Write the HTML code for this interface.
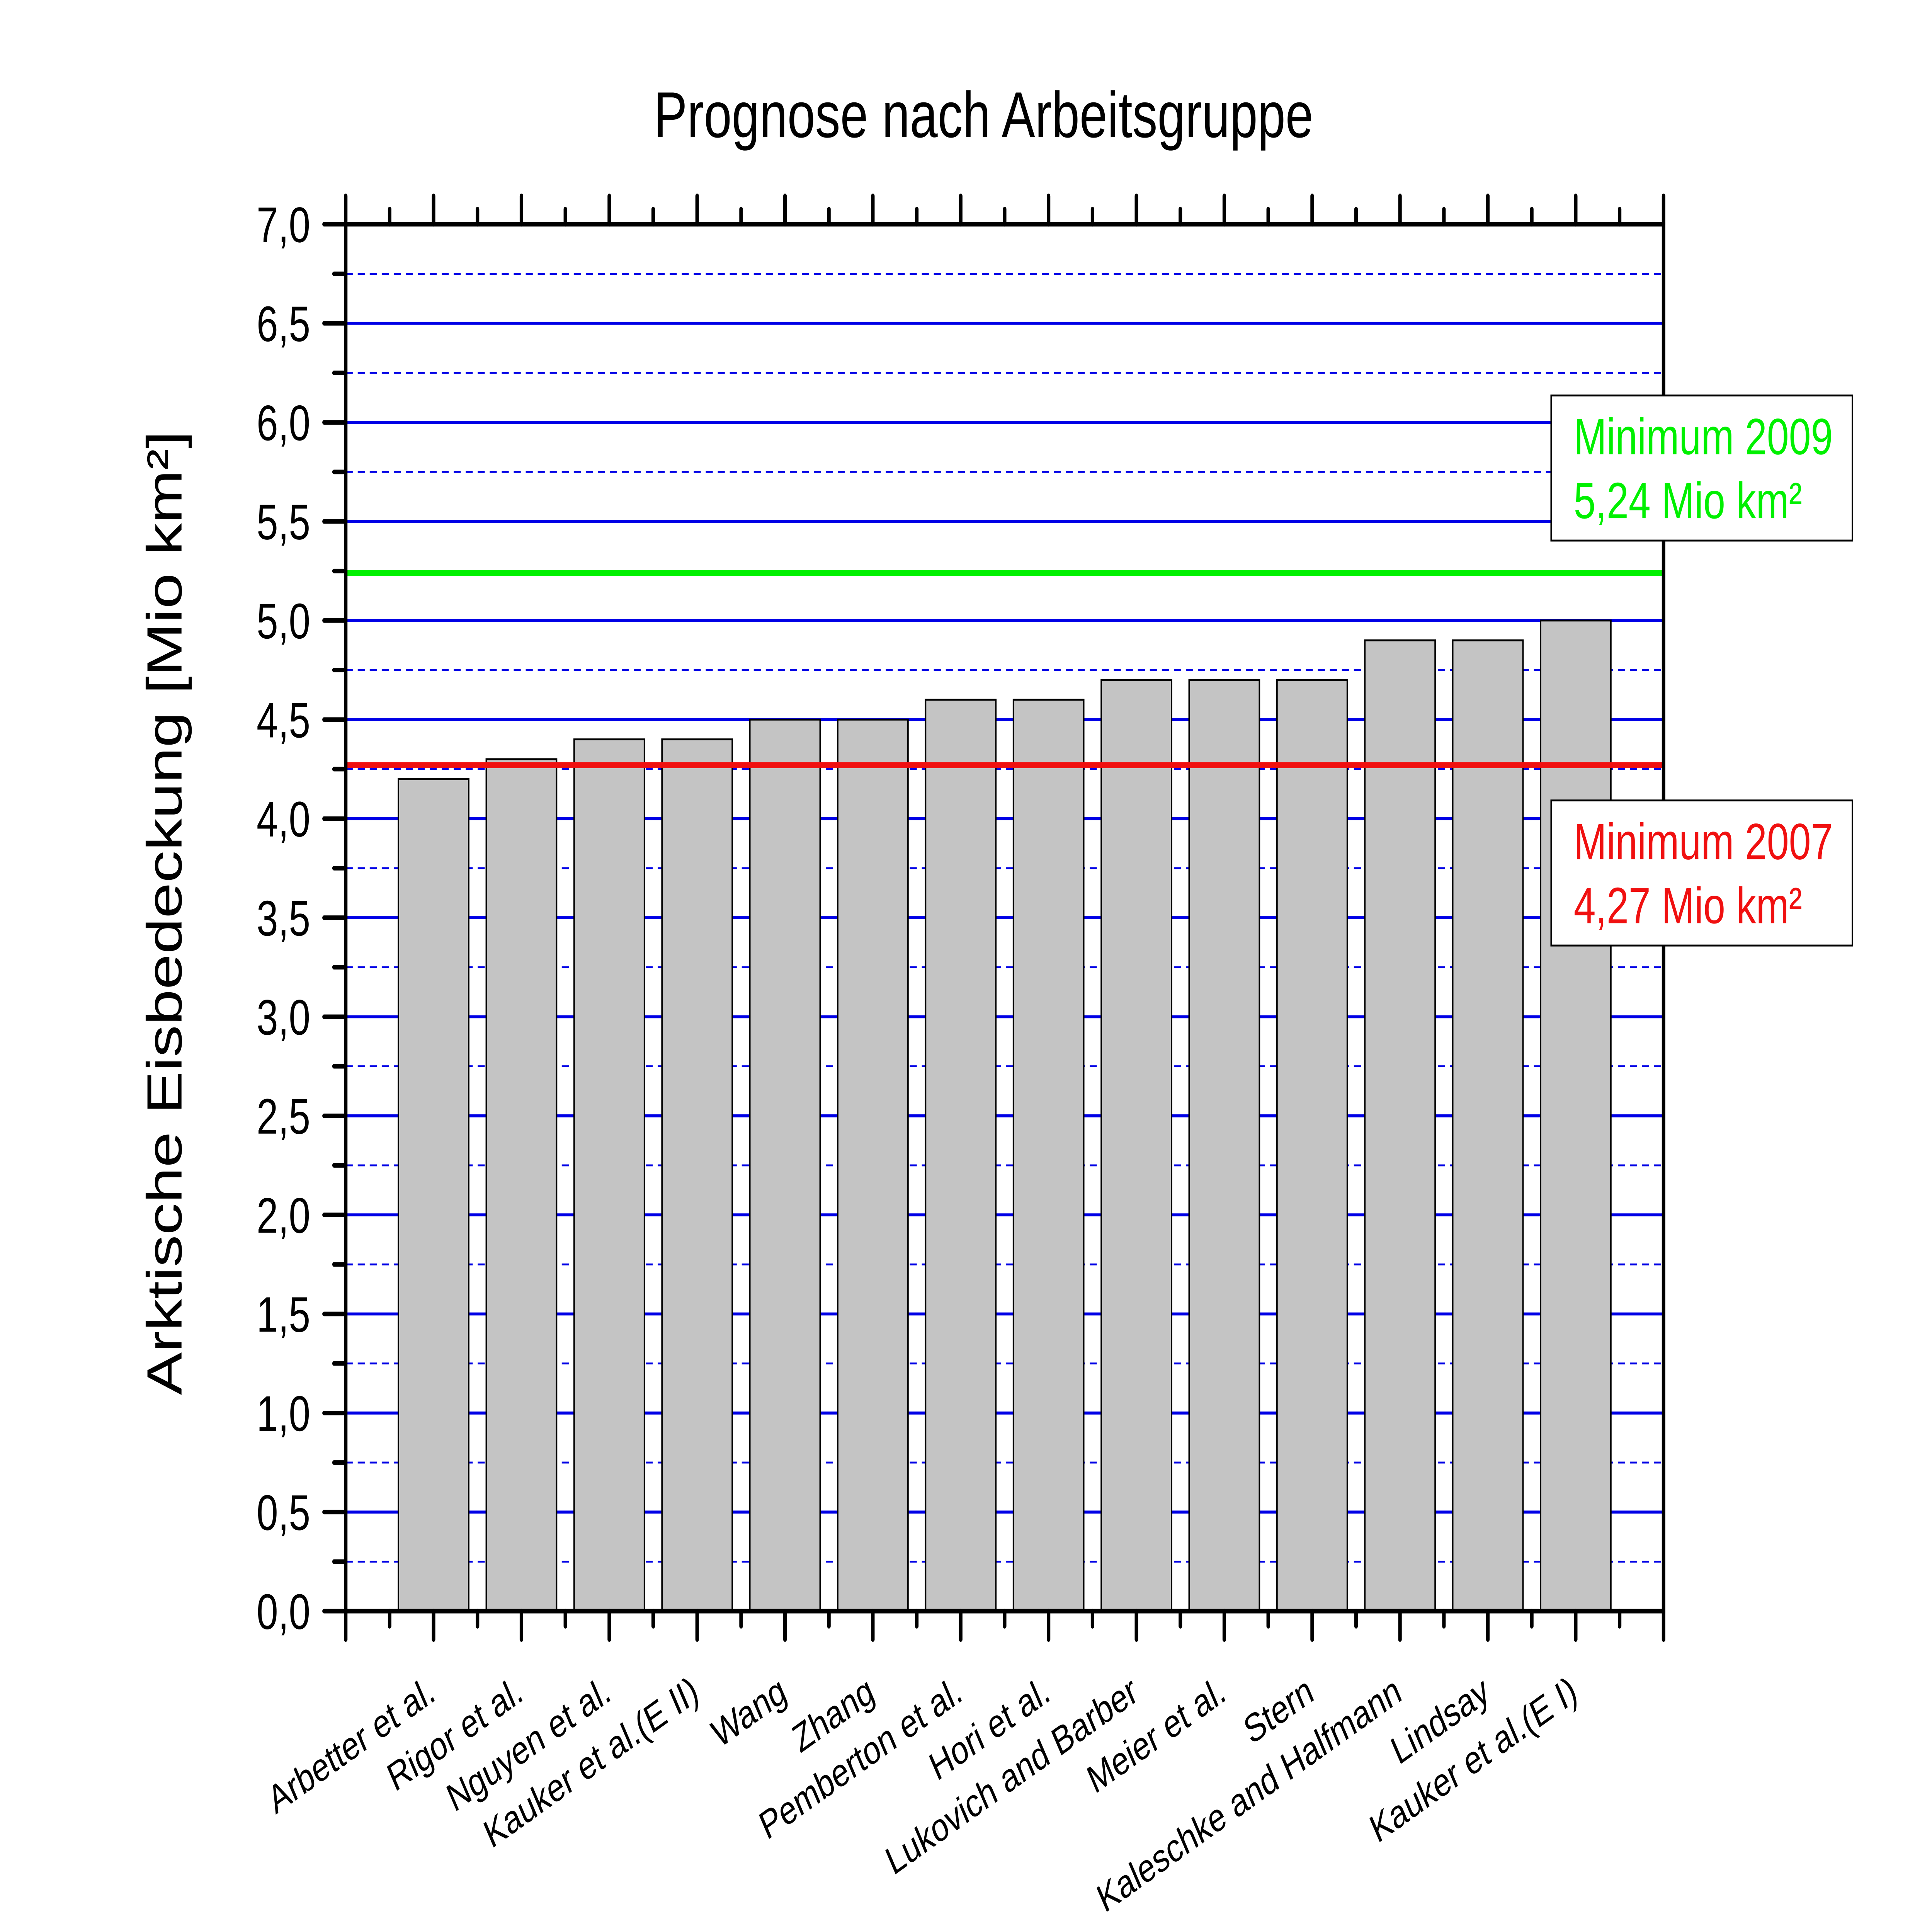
<!DOCTYPE html>
<html><head><meta charset="utf-8"><style>
html,body{margin:0;padding:0;background:#fff;overflow:hidden;width:100%;height:100%;}
svg{display:block;position:absolute;left:0;top:0;width:100vw;height:100vh;font-family:"Liberation Sans",Arial,sans-serif;}
</style></head><body>
<svg id="chart" viewBox="0 0 6600 5100" preserveAspectRatio="none" xmlns="http://www.w3.org/2000/svg">
<rect x="0" y="0" width="6600" height="5100" fill="#fff"/>
<text x="3360" y="362" font-size="171" text-anchor="middle">Prognose nach Arbeitsgruppe</text>
<text transform="translate(620,2410) rotate(-90)" font-size="169" text-anchor="middle">Arktische Eisbedeckung [Mio km²]</text>
<g id="grid"></g>
<g id="bars"></g>
<g id="refs"></g>
<g id="axes"></g>
<g id="labels"></g>
<g id="boxes"></g>
</svg>
<script>
const categories = ["Arbetter et al.","Rigor et al.","Nguyen et al.","Kauker et al.(E II)","Wang","Zhang","Pemberton et al.","Hori et al.","Lukovich and Barber","Meier et al.","Stern","Kaleschke and Halfmann","Lindsay","Kauker et al.(E I)"];
const values = [4.2,4.3,4.4,4.4,4.5,4.5,4.6,4.6,4.7,4.7,4.7,4.9,4.9,5.0];
const yTickLabels = ["0,0","0,5","1,0","1,5","2,0","2,5","3,0","3,5","4,0","4,5","5,0","5,5","6,0","6,5","7,0"];
const refValues = [5.24, 4.27];
const refLabels = [["Minimum 2009","5,24 Mio km²"],["Minimum 2007","4,27 Mio km²"]];

const NS="http://www.w3.org/2000/svg";
const L=1181,R=5683,T=592,B=4253,YMAX=7,XMAX=categories.length+1;
const sx=v=>L+(R-L)*v/XMAX;
const sy=v=>B-(B-T)*v/YMAX;
function mk(tag,parent,attrs){const e=document.createElementNS(NS,tag);for(const k in attrs)e.setAttribute(k,attrs[k]);document.getElementById(parent).appendChild(e);return e;}

for(let i=1;i<YMAX*4;i++){
  const v=i/4, y=sy(v);
  if(i%2===0){
    const g=mk('line','grid',{x1:L,x2:R,y1:y,y2:y,stroke:'#0000e6','stroke-width':8});
    
    
  } else {
    const g=mk('line','grid',{x1:L,x2:R,y1:y,y2:y,stroke:'#0000e6','stroke-width':5,'stroke-dasharray':'24 17'});
    
    
  }
}
const bw=(R-L)/XMAX*0.8;
values.forEach((v,i)=>{
  const cx=sx(i+1);
  const b=mk('rect','bars',{x:cx-bw/2,y:sy(v),width:bw,height:B-sy(v),fill:'#c4c4c4',stroke:'#000','stroke-width':5});
  
  
});
const refColors=['#00f000','#f01010'];
refValues.forEach((v,i)=>{
  const l=mk('line','refs',{x1:L,x2:R,y1:sy(v),y2:sy(v),stroke:refColors[i],'stroke-width':16});
  
  
});
const fr=mk('rect','axes',{x:L,y:T,width:R-L,height:B-T,fill:'none',stroke:'#000','stroke-width':12});


for(let i=0;i<=YMAX*4;i++){
  const y=sy(i/4), len=(i%2===0)?74:40;
  const t=mk('line','axes',{x1:L-len,x2:L,y1:y,y2:y,stroke:'#000','stroke-width':12,'stroke-linecap':'round'});
  
  
}
yTickLabels.forEach((s,i)=>{
  const t=mk('text','labels',{x:1060,y:sy(i*0.5)+47,'font-size':132,'text-anchor':'end'});
  t.textContent=s;
  
  
});
for(let i=0;i<=XMAX*2;i++){
  const x=sx(i/2), len=(i%2===0)?75:40;
  const tb=mk('line','axes',{x1:x,x2:x,y1:B,y2:B+len,stroke:'#000','stroke-width':12,'stroke-linecap':'round'});
  
  
  const tt=mk('line','axes',{x1:x,x2:x,y1:T,y2:T-len,stroke:'#000','stroke-width':12,'stroke-linecap':'round'});
  
  
}
categories.forEach((c,i)=>{
  const x=sx(i+1)+12, y=4485;
  const t=mk('text','labels',{x:x,y:y,'font-size':105,'text-anchor':'end',transform:`rotate(-29 ${x} ${y})`});
  t.textContent=c;
  
  
});
const boxY=[1044,2113];
refLabels.forEach((lines,i)=>{
  const r=mk('rect','boxes',{x:5299,y:boxY[i],width:1029,height:383,fill:'#fff',stroke:'#000','stroke-width':5});
  
  
  lines.forEach((s,j)=>{
    const t=mk('text','boxes',{x:5376,y:boxY[i]+155+j*169,'font-size':135,fill:refColors[i]});
    t.textContent=s;
    
    
  });
});
</script>
</body></html>
